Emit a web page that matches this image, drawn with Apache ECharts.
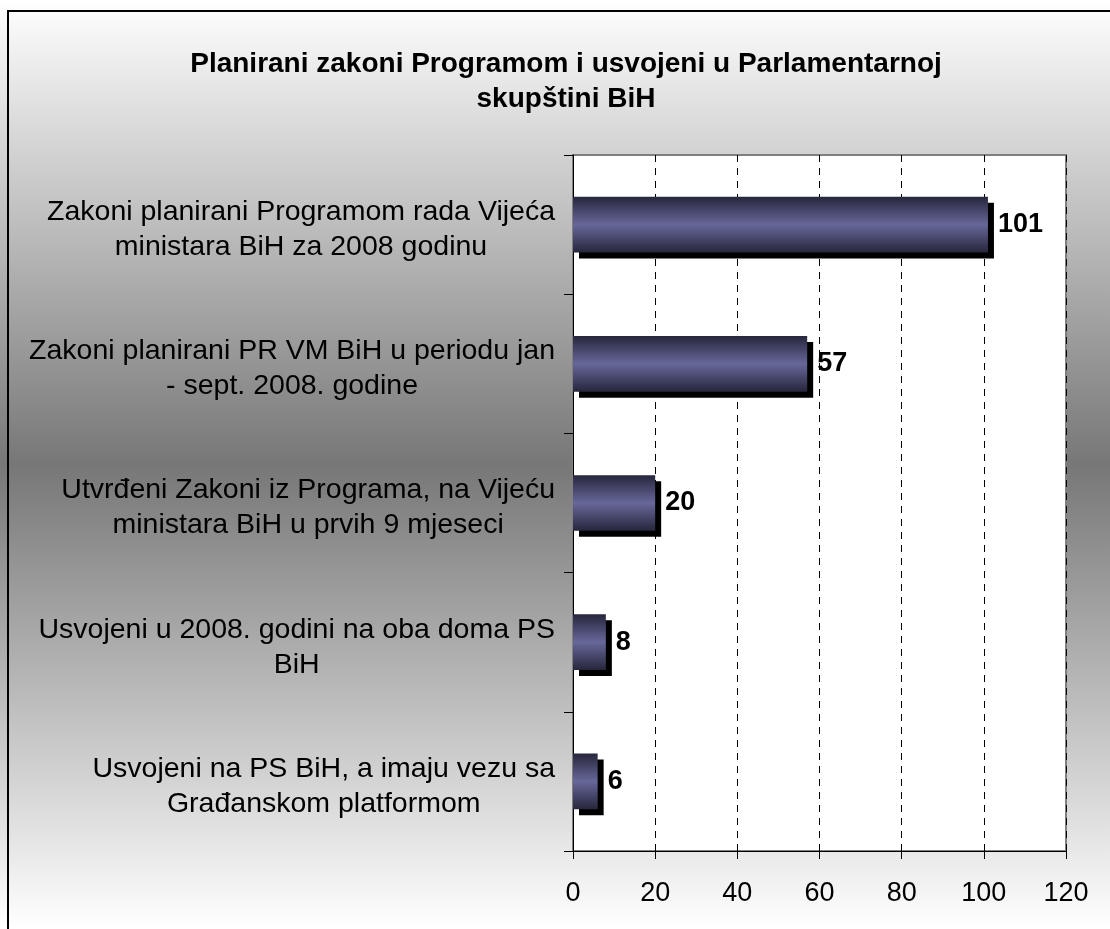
<!DOCTYPE html>
<html>
<head>
<meta charset="utf-8">
<script src="https://cdn.jsdelivr.net/npm/echarts@6/dist/echarts.min.js"></script>
<style>
html,body{margin:0;padding:0;background:#fff;}
#chart{width:1110px;height:929px;}
</style>
</head>
<body>
<div id="chart"></div>
<script>
const titleText = 'Planirani zakoni Programom i usvojeni u Parlamentarnoj\nskupštini BiH';
const categories = [
  ['Zakoni planirani Programom rada Vijeća', 'ministara BiH za 2008 godinu'],
  ['Zakoni planirani PR VM BiH u periodu jan', '- sept. 2008. godine'],
  ['Utvrđeni Zakoni iz Programa, na Vijeću', 'ministara BiH u prvih 9 mjeseci'],
  ['Usvojeni u 2008. godini na oba doma PS', 'BiH'],
  ['Usvojeni na PS BiH, a imaju vezu sa', 'Građanskom platformom']
];
const values = [101, 57, 20, 8, 6];
const xTicks = [0, 20, 40, 60, 80, 100, 120];

const font = '"Liberation Sans", Arial, sans-serif';
const chart = echarts.init(document.getElementById('chart'), null, {renderer: 'canvas'});
const catNames = categories.map(c => c.join('\n'));

chart.setOption({
  animation: false,
  backgroundColor: {
    type: 'linear', x: 0, y: 0, x2: 0, y2: 1,
    colorStops: [
      {offset: 0, color: '#ffffff'},
      {offset: 0.5, color: '#777777'},
      {offset: 1, color: '#ffffff'}
    ]
  },
  title: {
    text: titleText,
    left: 561,
    textAlign: 'center',
    top: 42,
    textStyle: {fontFamily: font, fontWeight: 'bold', fontSize: 28, lineHeight: 35, color: '#000'}
  },
  grid: {
    left: 573, top: 155, right: 44, bottom: 78,
    show: true, backgroundColor: '#ffffff', borderColor: '#808080', borderWidth: 2,
    containLabel: false
  },
  xAxis: {
    type: 'value', min: 0, max: 120, interval: 20,
    axisLine: {show: true, lineStyle: {color: '#000', width: 1}},
    axisTick: {show: true, length: 8, lineStyle: {color: '#000'}},
    axisLabel: {
      margin: 29, fontFamily: font, fontSize: 27, color: '#000',
      formatter: v => xTicks.includes(v) ? String(v) : ''
    },
    splitLine: {show: true, lineStyle: {color: '#000', type: [7, 6], width: 1}}
  },
  yAxis: {
    type: 'category', inverse: true, data: catNames,
    axisLine: {show: true, lineStyle: {color: '#000', width: 1}},
    axisTick: {show: true, length: 9, lineStyle: {color: '#000'}},
    axisLabel: {
      margin: 18, align: 'right', padding: [10, 0, 0, 0],
      formatter: v => v.split('\n').map(l => '{c|' + l + '}').join('\n'),
      rich: {c: {fontFamily: font, fontSize: 28.5, lineHeight: 35, color: '#000', align: 'center'}}
    },
    splitLine: {show: false}
  },
  series: [{
    type: 'bar',
    data: values,
    barWidth: '40%',
    itemStyle: {
      color: {
        type: 'linear', x: 0, y: 0, x2: 0, y2: 1,
        colorStops: [
          {offset: 0, color: '#26263c'},
          {offset: 0.5, color: '#67679a'},
          {offset: 1, color: '#26263c'}
        ]
      },
      borderWidth: 0,
      shadowColor: '#000', shadowBlur: 0, shadowOffsetX: 6, shadowOffsetY: 6
    },
    label: {
      show: true, position: 'right', distance: 10,
      fontFamily: font, fontWeight: 'bold', fontSize: 27, color: '#000'
    }
  }],
  graphic: [{
    type: 'rect', z: 100, silent: true,
    shape: {x: 8, y: 11, width: 1120, height: 950},
    style: {fill: null, stroke: '#000', lineWidth: 2}
  }]
});
</script>
</body>
</html>
